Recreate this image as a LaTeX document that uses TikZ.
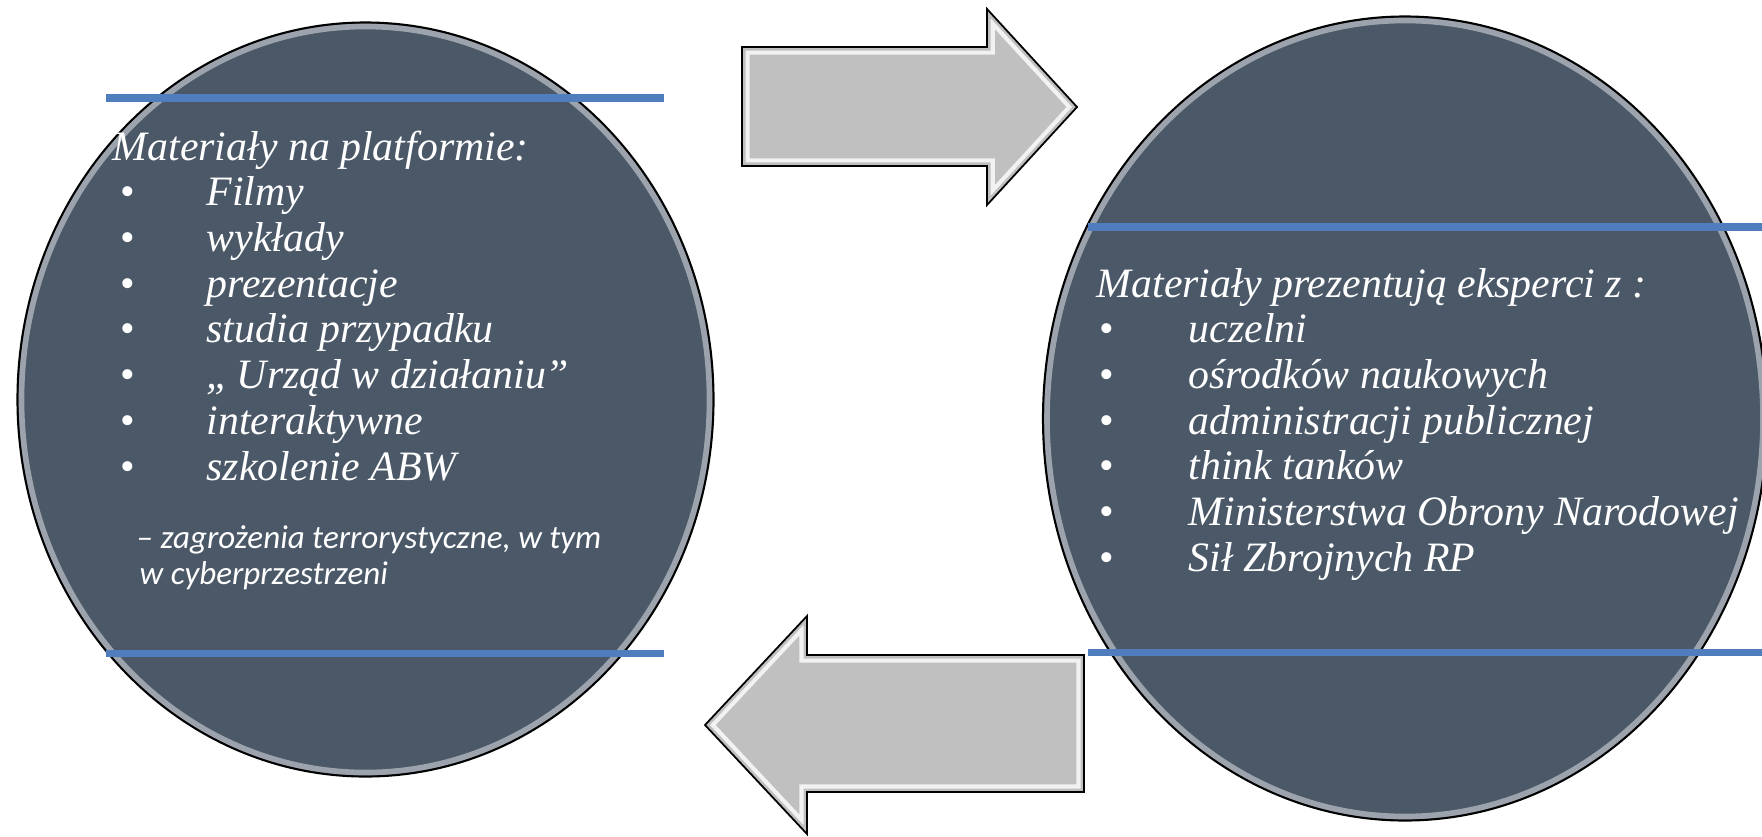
\documentclass[tikz,border=0pt]{standalone}
\usepackage{fontspec}
\setmainfont{Liberation Serif}
\newfontfamily\calibri{Carlito}
\usetikzlibrary{shapes.geometric,positioning}

\definecolor{slate}{RGB}{75,88,104}
\definecolor{barblue}{RGB}{80,125,190}
\definecolor{arrowgray}{RGB}{192,192,192}

% outlines of the two block arrows
\newcommand{\shapeToExperts}{(7.42,7.89) -- (9.87,7.89) -- (9.87,8.27) -- (10.77,7.29) -- (9.87,6.31) -- (9.87,6.70) -- (7.42,6.70) -- cycle}
\newcommand{\shapeToPlatform}{(10.84,1.81) -- (8.07,1.81) -- (8.07,2.20) -- (7.05,1.11) -- (8.07,0.02) -- (8.07,0.44) -- (10.84,0.44) -- cycle}

\tikzset{
  disc/.style={ellipse, draw=black, line width=0.6pt, fill=slate, inner sep=0pt},
  rim/.style={draw=white, line width=1.6pt, opacity=0.45},
  bar/.style={draw=barblue, line width=2pt},
  listtext/.style={text=white, inner sep=0pt, font=\fontsize{11.9}{13}\selectfont\itshape},
  subtext/.style={text=white, inner sep=0pt, align=left, font=\calibri\fontsize{9.4}{10.5}\selectfont\itshape},
  bevel/.style={draw=white, line width=4.4pt, opacity=0.8},
}

\begin{document}
\begin{tikzpicture}
    \useasboundingbox (0,0) rectangle (17.62,8.36);

    % Platform
    \node[disc, minimum width=6.96cm, minimum height=7.54cm] (platform) at (3.655,4.365) {};
    \draw[rim] (platform.center) ellipse [x radius=3.44cm, y radius=3.73cm];
    \draw[bar] (1.06,7.38) -- (6.64,7.38);
    \draw[bar] (1.06,1.83) -- (6.64,1.83);

    % Experts
    \node[disc, minimum width=7.24cm, minimum height=8.04cm] (experts) at (14.05,4.175) {};
    \draw[rim] (experts.center) ellipse [x radius=3.58cm, y radius=3.98cm];
    \draw[bar] (10.88,6.09) -- (17.62,6.09);
    \draw[bar] (10.88,1.84) -- (17.62,1.84);

    % Lists
    \node[listtext, anchor=west] (platformlist) at (1.12,5.25) {
        \begin{tabular}{@{}p{0.94cm}@{}l@{}}
        \multicolumn{2}{@{}l@{}}{Materiały na platformie:} \\
        \hspace{0.08cm}{\upshape\textbullet} & Filmy \\
        \hspace{0.08cm}{\upshape\textbullet} & wykłady \\
        \hspace{0.08cm}{\upshape\textbullet} & prezentacje \\
        \hspace{0.08cm}{\upshape\textbullet} & studia przypadku \\
        \hspace{0.08cm}{\upshape\textbullet} & „\,Urząd w działaniu” \\
        \hspace{0.08cm}{\upshape\textbullet} & interaktywne \\
        \hspace{0.08cm}{\upshape\textbullet} & szkolenie ABW
        \end{tabular}
    };
    \node[subtext, below right=0.3cm and 0.24cm of platformlist.south west] (abw) {
        – zagrożenia terrorystyczne, w tym \\
        \hspace{0.03cm}w cyberprzestrzeni
    };

    \node[listtext, anchor=west] (expertlist) at (10.96,4.11) {
        \begin{tabular}{@{}p{0.92cm}@{}l@{}}
        \multicolumn{2}{@{}l@{}}{Materiały prezentują eksperci z :} \\
        \hspace{0.03cm}{\upshape\textbullet} & uczelni \\
        \hspace{0.03cm}{\upshape\textbullet} & ośrodków naukowych \\
        \hspace{0.03cm}{\upshape\textbullet} & administracji publicznej \\
        \hspace{0.03cm}{\upshape\textbullet} & think tanków \\
        \hspace{0.03cm}{\upshape\textbullet} & Ministerstwa Obrony Narodowej \\
        \hspace{0.03cm}{\upshape\textbullet} & Sił Zbrojnych RP
        \end{tabular}
    };

    % Arrows
    \begin{scope}
        \clip \shapeToExperts;
        \fill[arrowgray] \shapeToExperts;
        \draw[bevel] \shapeToExperts;
        \draw[arrowgray, line width=2pt] \shapeToExperts;
    \end{scope}
    \draw[line width=0.5pt] \shapeToExperts;

    \begin{scope}
        \clip \shapeToPlatform;
        \fill[arrowgray] \shapeToPlatform;
        \draw[bevel] \shapeToPlatform;
        \draw[arrowgray, line width=2pt] \shapeToPlatform;
    \end{scope}
    \draw[line width=0.5pt] \shapeToPlatform;
\end{tikzpicture}
\end{document}
